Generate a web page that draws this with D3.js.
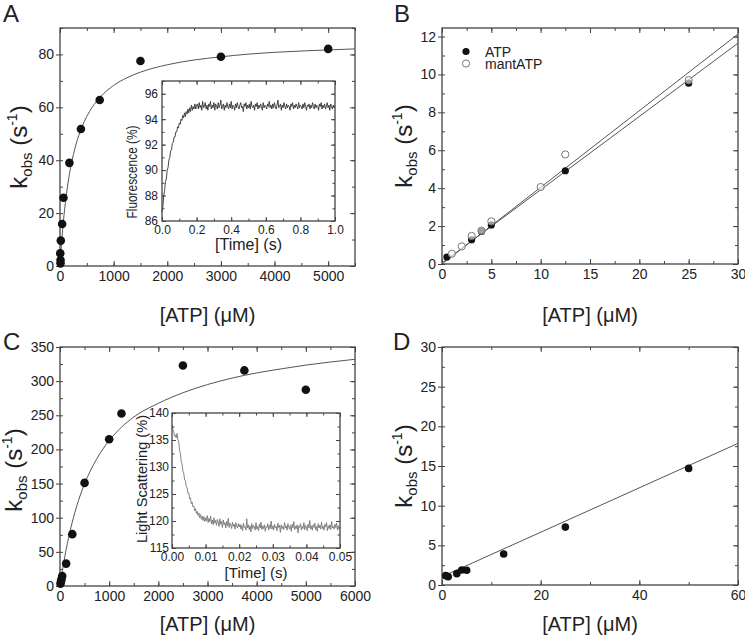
<!DOCTYPE html>
<html><head><meta charset="utf-8">
<script src="https://cdn.jsdelivr.net/npm/d3@7"></script>
<style>
body{margin:0;background:#fff}
svg{display:block}
text{font-family:"Liberation Sans", Arial, sans-serif; fill:#222}
</style>
</head><body><svg id="c" width="745" height="636"></svg>
<script>
// ---------------- DATA ----------------
// Panel A
const aConc = [10, 10, 5, 15, 40, 65, 175, 390, 740, 1500, 3000, 5000];
const aKobs = [1.0, 2.3, 4.8, 9.6, 15.9, 25.8, 39.0, 51.8, 62.8, 77.5, 79.1, 82.1];
const aFitConc = [0, 10, 25, 50, 100, 150, 200, 300, 400, 500, 600, 750, 1000, 1250, 1500, 2000, 2500, 3000, 3500, 4000, 4500, 5000, 5500];
const aFitKobs = [0, 3.2, 7.5, 13.9, 23.9, 31.5, 37.4, 46.1, 52.1, 56.6, 60.0, 63.9, 68.3, 71.2, 73.3, 76.1, 77.9, 79.1, 80.1, 80.8, 81.3, 81.7, 82.1];
const aXTicks = [0, 1000, 2000, 3000, 4000, 5000];
const aYTicks = [0, 20, 40, 60, 80];
// Inset A (fluorescence transient), sampled every 0.005 s
const insetAStep = 0.005;
const insetAFluor = [
86.7, 87.1, 88.0, 88.4, 89.1, 89.3, 90.0, 90.2, 90.8, 91.0, 91.5, 91.6, 92.1, 92.2, 92.6, 92.6, 93.0, 93.0, 93.4, 93.3,
93.7, 93.6, 94.0, 93.9, 94.3, 94.1, 94.5, 94.2, 94.6, 94.4, 94.8, 94.5, 94.9, 94.6, 95.1, 94.7, 95.0, 94.8, 95.2, 94.8, 95.1,
95.2, 94.8, 95.3, 94.9, 95.1, 94.7, 95.4, 94.9, 95.0, 95.3, 94.8, 95.1, 94.7, 95.2, 95.0, 95.4, 94.8, 95.1, 94.9, 95.3,
94.7, 95.2, 95.0, 94.8, 95.3, 94.9, 95.1, 95.5, 94.8, 95.0, 95.2, 94.7, 95.1, 94.9, 95.3, 95.0, 94.8, 95.2, 94.9, 95.4,
94.8, 95.1, 95.0, 94.7, 95.2, 94.9, 95.3, 95.0, 94.8, 95.1, 95.3, 94.9, 95.0, 94.6, 95.2, 95.0, 95.3, 94.8, 95.1, 94.9,
95.2, 94.8, 95.4, 95.0, 94.9, 95.1, 94.7, 95.2, 95.0, 95.3, 94.8, 95.1, 94.9, 95.2, 95.0, 94.7, 95.3, 94.9, 95.1, 95.0,
94.8, 95.2, 95.0, 95.4, 94.9, 95.1, 94.8, 95.2, 94.9, 95.3, 95.0, 94.8, 95.1, 95.5, 94.9, 95.0, 95.2, 94.7, 95.1, 94.9,
95.3, 95.0, 94.8, 95.2, 94.9, 95.1, 95.0, 94.7, 95.2, 95.0, 95.3, 94.8, 95.1, 94.9, 95.2, 95.0, 94.8, 95.3, 94.9, 95.1,
95.0, 94.8, 95.2, 94.9, 95.3, 95.0, 94.7, 95.1, 95.0, 95.2, 94.8, 95.1, 94.9, 95.3, 95.0, 94.8, 95.2, 94.9, 95.1, 95.0,
94.7, 95.2, 95.0, 95.3, 94.8, 95.1, 94.9, 95.2, 94.8, 95.0, 95.3, 94.9, 95.1, 94.7, 95.2, 95.0, 94.8, 95.1, 94.9, 95.0];
const insetAXTicks = [0, 0.2, 0.4, 0.6, 0.8, 1.0];
const insetAYTicks = [86, 88, 90, 92, 94, 96];

// Panel B
const bAtpConc = [0.5, 3, 4, 5, 12.5, 25];
const bAtpKobs = [0.37, 1.28, 1.72, 2.06, 4.92, 9.54];
const bMantConc = [1, 2, 3, 4, 5, 10, 12.5, 25];
const bMantKobs = [0.54, 0.93, 1.48, 1.76, 2.25, 4.06, 5.78, 9.7];
const bFitMantConc = [0, 30];
const bFitMantKobs = [0.0, 12.13];
const bFitAtpConc = [0, 30];
const bFitAtpKobs = [0.05, 11.65];
const bXTicks = [0, 5, 10, 15, 20, 25, 30];
const bYTicks = [0, 2, 4, 6, 8, 10, 12];

// Panel C
const cConc = [10, 20, 30, 45, 125, 250, 500, 1000, 1250, 2500, 3750, 5000];
const cKobs = [3.4, 7.0, 10.0, 14.7, 32.8, 75.9, 151, 215, 252.6, 323, 315.7, 287.3];
const cFitConc = [0, 25, 50, 100, 150, 200, 300, 400, 500, 750, 1000, 1250, 1500, 2000, 2500, 3000, 3500, 4000, 4500, 5000, 5500, 6000];
const cFitKobs = [0, 12.1, 23.4, 44.1, 62.4, 78.9, 107.0, 130.3, 149.8, 186.5, 213.0, 232.5, 247.5, 267.5, 283.0, 295.0, 304.5, 312.0, 318.0, 323.5, 328.0, 332.0];
const cXTicks = [0, 1000, 2000, 3000, 4000, 5000, 6000];
const cYTicks = [0, 50, 100, 150, 200, 250, 300, 350];
// Inset C (light scattering transient), sampled every 0.00025 s
const insetCStep = 0.00025;
const insetCScatter = [
137.8, 136.9, 136.6, 135.7, 135.9, 135.4, 136.2, 135.1, 134.7, 133.1, 132.5, 131.0, 130.6, 129.2, 128.9, 127.6, 127.5, 126.3, 126.2, 125.1,
125.2, 124.1, 124.3, 123.2, 123.5, 122.6, 122.8, 121.9, 122.3, 121.4, 121.8, 121.0, 121.5, 120.6, 121.2, 120.3, 120.9, 120.1, 120.8, 119.9, 120.6,
120.0, 121.0, 119.7, 120.5, 119.9, 120.9, 119.5, 120.2, 119.3, 120.6, 119.6, 120.1, 119.2, 120.3, 119.8, 119.0, 120.4, 119.4, 119.9, 118.8,
120.2, 119.3, 119.7, 118.7, 119.9, 119.1, 120.5, 118.8, 119.6, 119.2, 118.6, 119.8, 119.0, 119.4, 118.5, 119.7, 119.1, 118.7, 119.5, 118.9,
119.4, 118.5, 119.2, 118.2, 119.6, 118.8, 119.0, 118.3, 120.4, 118.7, 119.3, 118.4, 119.1, 118.0, 119.5, 118.6, 119.2, 118.9, 118.3, 119.7,
118.5, 119.0, 118.2, 119.4, 118.7, 119.8, 118.4, 119.1, 118.6, 119.3, 118.1, 119.0, 118.8, 119.5, 118.3, 119.2, 118.6, 120.0, 118.5, 119.1,
118.3, 119.4, 118.7, 119.0, 118.2, 119.6, 118.8, 119.2, 117.9, 119.3, 118.6, 119.0, 118.4, 119.7, 118.7, 119.1, 118.3, 119.5, 118.9, 118.5,
119.2, 118.1, 119.4, 118.7, 119.9, 118.4, 119.0, 118.6, 119.3, 117.8, 119.1, 118.8, 119.5, 118.3, 119.0, 118.6, 119.7, 118.4, 119.2, 118.9,
118.2, 119.4, 118.7, 120.1, 118.5, 119.1, 118.3, 119.3, 118.8, 119.6, 118.4, 119.0, 118.1, 119.5, 118.7, 119.2, 118.5, 119.8, 118.6, 119.0,
118.3, 119.4, 118.9, 119.7, 118.2, 119.1, 118.6, 119.3, 118.4, 119.9, 118.7, 119.0, 118.5, 119.4, 118.8, 119.6, 118.3, 119.1, 118.5, 118.9];
const insetCXTicks = [0, 0.01, 0.02, 0.03, 0.04, 0.05];
const insetCYTicks = [115, 120, 125, 130, 135, 140];

// Panel D
const dConc = [0.75, 1.25, 3, 4, 5, 12.5, 25, 50];
const dKobs = [1.18, 1.05, 1.43, 1.9, 1.85, 3.9, 7.3, 14.7];
const dFitConc = [0, 60];
const dFitKobs = [1.05, 17.85];
const dXTicks = [0, 20, 40, 60];
const dYTicks = [0, 5, 10, 15, 20, 25, 30];

// ---------------- DRAWING ----------------
const svg = d3.select('#c');
const FRAME = '#444';
const LINE = '#555';

function axes(g, x, y, o) {
  const w = x.range()[1] - x.range()[0];
  const h = y.range()[0] - y.range()[1];
  const clean = s => { s.select('.domain').remove(); s.selectAll('line').attr('stroke', FRAME).attr('stroke-width', 1); s.attr('font-family', null).attr('font-size', null); };
  g.append('g').attr('transform', `translate(0,${h})`).call(d3.axisBottom(x).tickValues(o.xMinor).tickSize(-o.minor).tickFormat('')).call(clean);
  g.append('g').call(d3.axisTop(x).tickValues(o.xMinor).tickSize(-o.minor).tickFormat('')).call(clean);
  g.append('g').call(d3.axisLeft(y).tickValues(o.yMinor).tickSize(-o.minor).tickFormat('')).call(clean);
  g.append('g').attr('transform', `translate(${w},0)`).call(d3.axisRight(y).tickValues(o.yMinor).tickSize(-o.minor).tickFormat('')).call(clean);
  const xb = g.append('g').attr('transform', `translate(0,${h})`)
    .call(d3.axisBottom(x).tickValues(o.xTicks).tickSize(-o.major).tickPadding(o.xPad).tickFormat(o.xFmt)).call(clean);
  xb.selectAll('text').style('font-size', o.fs + 'px').attr('fill', '#222');
  g.append('g').call(d3.axisTop(x).tickValues(o.xTicks).tickSize(-o.major).tickFormat('')).call(clean);
  const yl = g.append('g')
    .call(d3.axisLeft(y).tickValues(o.yTicks).tickSize(o.leftOut).tickPadding(o.yPad).tickFormat(o.yFmt)).call(clean);
  yl.selectAll('text').style('font-size', o.fs + 'px').attr('fill', '#222');
  g.append('g').attr('transform', `translate(${w},0)`).call(d3.axisRight(y).tickValues(o.yTicks).tickSize(-o.major).tickFormat('')).call(clean);
  g.append('rect').attr('width', w).attr('height', h).attr('fill', 'none').attr('stroke', FRAME).attr('stroke-width', 1.3);
}

function kTitle(cx, cy) {
  const t = svg.append('text').attr('transform', `translate(${cx},${cy}) rotate(-90)`)
    .attr('text-anchor', 'middle').style('font-size', '24px');
  t.append('tspan').text('k');
  t.append('tspan').text('obs').style('font-size', '15px').attr('dy', 5);
  t.append('tspan').text(' (s').attr('dy', -5);
  t.append('tspan').text('-1').style('font-size', '14px').attr('dy', -10);
  t.append('tspan').text(')').attr('dy', 10);
}
function xTitle(cx, by, txt, fs) {
  svg.append('text').attr('x', cx).attr('y', by).attr('text-anchor', 'middle').style('font-size', fs + 'px').text(txt);
}
function letter(x, y, s) {
  svg.append('text').attr('x', x).attr('y', y).style('font-size', '24px').text(s);
}
const zip = (xs, ys) => xs.map((v, i) => [v, ys[i]]);

function mainPanel(L, T, R, B, xd, yd, xT, xMinorStep, yT, yMinorStep) {
  const x = d3.scaleLinear().domain(xd).range([0, R - L]);
  const y = d3.scaleLinear().domain(yd).range([B - T, 0]);
  const g = svg.append('g').attr('transform', `translate(${L},${T})`);
  axes(g, x, y, {
    xTicks: xT, yTicks: yT,
    xMinor: d3.range(xd[0], xd[1] + 1e-9, xMinorStep),
    yMinor: d3.range(yd[0], yd[1] + 1e-9, yMinorStep),
    major: 5, minor: 3, leftOut: 4, xPad: 5, yPad: 2, fs: 14,
    xFmt: d3.format('d'), yFmt: d3.format('d')
  });
  const clipId = 'clip' + L + '_' + T;
  svg.append('clipPath').attr('id', clipId).append('rect').attr('width', R - L).attr('height', B - T);
  const plot = g.append('g').attr('clip-path', `url(#${clipId})`);
  return { x, y, g, plot };
}

// ---- Panel A ----
{
  const p = mainPanel(60, 28, 355, 266, [0, 5500], [0, 90], aXTicks, 500, aYTicks, 10);
  p.plot.append('path').datum(zip(aFitConc, aFitKobs))
    .attr('d', d3.line().x(d => p.x(d[0])).y(d => p.y(d[1])).curve(d3.curveMonotoneX))
    .attr('fill', 'none').attr('stroke', LINE).attr('stroke-width', 1);
  p.g.selectAll('circle.pa').data(zip(aConc, aKobs)).join('circle')
    .attr('cx', d => p.x(d[0])).attr('cy', d => p.y(d[1])).attr('r', 4.3).attr('fill', '#111');

  const L = 162, T = 81, R = 335, B = 221;
  const x = d3.scaleLinear().domain([0, 1]).range([0, R - L]);
  const y = d3.scaleLinear().domain([86, 97]).range([B - T, 0]);
  const g = svg.append('g').attr('transform', `translate(${L},${T})`);
  g.append('rect').attr('width', R - L).attr('height', B - T).attr('fill', '#fff');
  const times = insetAFluor.map((v, i) => i * insetAStep);
  g.append('path').datum(zip(times, insetAFluor))
    .attr('d', d3.line().x(d => x(d[0])).y(d => y(d[1])))
    .attr('fill', 'none').attr('stroke', '#333').attr('stroke-width', 0.9);
  axes(g, x, y, {
    xTicks: insetAXTicks, yTicks: insetAYTicks,
    xMinor: d3.range(0, 1.0001, 0.1), yMinor: d3.range(86, 97.001, 1),
    major: 4, minor: 2.5, leftOut: -4, xPad: 4, yPad: 4, fs: 12,
    xFmt: d3.format('.1f'), yFmt: d3.format('d')
  });
  svg.append('text').attr('transform', `translate(137,172) rotate(-90)`).attr('text-anchor', 'middle')
    .style('font-size', '15px').attr('textLength', 93).attr('lengthAdjust', 'spacingAndGlyphs').text('Fluorescence (%)');
  xTitle(248.5, 250, '[Time] (s)', 16);
}
kTitle(27, 147);
xTitle(207.5, 322, '[ATP] (\u03bcM)', 20);
letter(3, 22, 'A');

// ---- Panel B ----
{
  const p = mainPanel(442, 28, 738, 264, [0, 30], [0, 12.45], bXTicks, 2.5, bYTicks, 1);
  const ln = d3.line().x(d => p.x(d[0])).y(d => p.y(d[1]));
  p.plot.append('path').datum(zip(bFitMantConc, bFitMantKobs)).attr('d', ln)
    .attr('fill', 'none').attr('stroke', LINE).attr('stroke-width', 1);
  p.plot.append('path').datum(zip(bFitAtpConc, bFitAtpKobs)).attr('d', ln)
    .attr('fill', 'none').attr('stroke', LINE).attr('stroke-width', 1);
  p.g.selectAll('circle.atp').data(zip(bAtpConc, bAtpKobs)).join('circle').attr('class', 'atp')
    .attr('cx', d => p.x(d[0])).attr('cy', d => p.y(d[1])).attr('r', 3.6).attr('fill', '#111');
  p.g.selectAll('circle.mant').data(zip(bMantConc, bMantKobs)).join('circle').attr('class', 'mant')
    .attr('cx', d => p.x(d[0])).attr('cy', d => p.y(d[1])).attr('r', 3.6)
    .attr('fill', '#fff').attr('fill-opacity', 0.6).attr('stroke', '#777').attr('stroke-width', 1);
  svg.append('circle').attr('cx', 466).attr('cy', 51.5).attr('r', 3.6).attr('fill', '#111');
  svg.append('circle').attr('cx', 466).attr('cy', 63.5).attr('r', 3.6).attr('fill', '#fff').attr('stroke', '#777');
  svg.append('text').attr('x', 485).attr('y', 56.5).style('font-size', '14px').text('ATP');
  svg.append('text').attr('x', 485).attr('y', 68.5).style('font-size', '14px').text('mantATP');
}
kTitle(412, 146);
xTitle(590, 322, '[ATP] (\u03bcM)', 20);
letter(394, 22, 'B');

// ---- Panel C ----
{
  const p = mainPanel(60, 347, 355, 586, [0, 6000], [0, 350], cXTicks, 500, cYTicks, 25);
  p.plot.append('path').datum(zip(cFitConc, cFitKobs))
    .attr('d', d3.line().x(d => p.x(d[0])).y(d => p.y(d[1])).curve(d3.curveMonotoneX))
    .attr('fill', 'none').attr('stroke', LINE).attr('stroke-width', 1);
  p.g.selectAll('circle.pc').data(zip(cConc, cKobs)).join('circle')
    .attr('cx', d => p.x(d[0])).attr('cy', d => p.y(d[1])).attr('r', 4.3).attr('fill', '#111');

  const L = 172, T = 413, R = 340, B = 548;
  const x = d3.scaleLinear().domain([0, 0.05]).range([0, R - L]);
  const y = d3.scaleLinear().domain([115, 140]).range([B - T, 0]);
  const g = svg.append('g').attr('transform', `translate(${L},${T})`);
  g.append('rect').attr('width', R - L).attr('height', B - T).attr('fill', '#fff');
  const times = insetCScatter.map((v, i) => i * insetCStep);
  g.append('path').datum(zip(times, insetCScatter))
    .attr('d', d3.line().x(d => x(d[0])).y(d => y(d[1])))
    .attr('fill', 'none').attr('stroke', '#777').attr('stroke-width', 0.9);
  axes(g, x, y, {
    xTicks: insetCXTicks, yTicks: insetCYTicks,
    xMinor: d3.range(0, 0.05001, 0.005), yMinor: d3.range(115, 140.001, 2.5),
    major: 4, minor: 2.5, leftOut: -4, xPad: 4, yPad: 3, fs: 12,
    xFmt: d3.format('.2f'), yFmt: d3.format('d')
  });
  svg.append('text').attr('transform', `translate(147,479) rotate(-90)`).attr('text-anchor', 'middle')
    .style('font-size', '14px').attr('textLength', 128).attr('lengthAdjust', 'spacingAndGlyphs').text('Light Scattering (%)');
  xTitle(256, 578, '[Time] (s)', 15);
}
kTitle(22, 470);
xTitle(207.5, 631, '[ATP] (\u03bcM)', 20);
letter(3, 350, 'C');

// ---- Panel D ----
{
  const p = mainPanel(442, 347, 738, 585, [0, 60], [0, 30], dXTicks, 10, dYTicks, 2.5);
  p.plot.append('path').datum(zip(dFitConc, dFitKobs))
    .attr('d', d3.line().x(d => p.x(d[0])).y(d => p.y(d[1])))
    .attr('fill', 'none').attr('stroke', LINE).attr('stroke-width', 1);
  p.g.selectAll('circle.pd').data(zip(dConc, dKobs)).join('circle')
    .attr('cx', d => p.x(d[0])).attr('cy', d => p.y(d[1])).attr('r', 3.8).attr('fill', '#111');
}
kTitle(412, 466);
xTitle(590, 631, '[ATP] (\u03bcM)', 20);
letter(393, 350, 'D');
</script>
</body></html>
